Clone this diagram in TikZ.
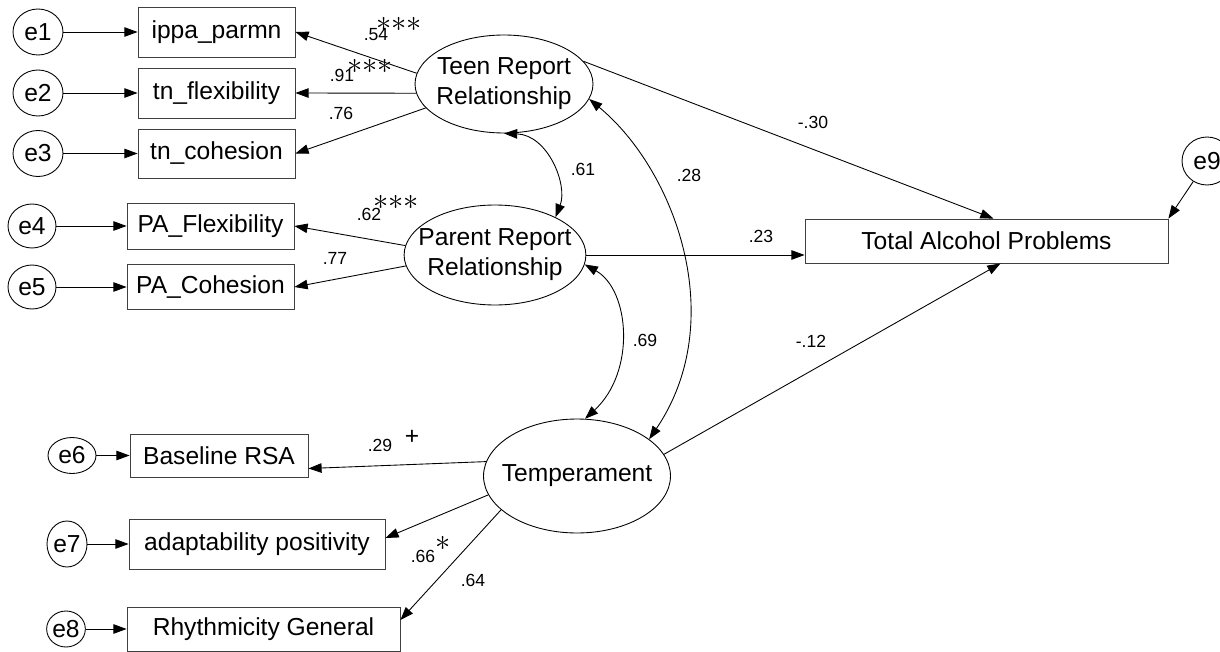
\documentclass[tikz,border=0pt]{standalone}
\usepackage{fontspec}
\setmainfont{Liberation Sans}
\usetikzlibrary{arrows.meta,shapes.geometric}

\begin{document}
\begin{tikzpicture}[x=0.02cm,y=-0.02cm,->,>={Triangle[length=7.5pt,width=5.4pt]},line width=0.5pt,
  obs/.style={draw=black!75,rectangle,inner sep=0pt,font=\fontsize{14}{17}\selectfont},
  lat/.style={draw,ellipse,inner sep=0pt,inner xsep=-7pt,align=center,font=\fontsize{14}{17}\selectfont},
  err/.style={draw,ellipse,inner sep=0pt,font=\fontsize{14}{17}\selectfont},
  coef/.style={inner sep=0pt,font=\fontsize{10}{12}\selectfont},
  sig/.style={inner sep=0pt,font=\fontsize{18}{18}\selectfont}]

  \useasboundingbox (0,0) rectangle (1220,652);

  % latent variables
  \node[lat,minimum width=3.56cm,minimum height=1.96cm] (teen) at (504,84) {Teen Report\\Relationship};
  \node[lat,minimum width=3.56cm,minimum height=2cm] (parent) at (495,255) {Parent Report\\Relationship};
  \node[lat,minimum width=3.74cm,minimum height=2.28cm] (temp) at (577,476) {Temperament};

  % indicators
  \node[obs,minimum width=3.14cm,minimum height=1cm] (ippa) at (216.5,32) {ippa\_parmn};
  \node[obs,minimum width=3.14cm,minimum height=1cm] (tnflex) at (216.5,93) {tn\_flexibility};
  \node[obs,minimum width=3.14cm,minimum height=0.98cm] (tncoh) at (216.5,153.5) {tn\_cohesion};
  \node[obs,minimum width=3.34cm,minimum height=0.92cm] (paflex) at (210.5,226) {PA\_Flexibility};
  \node[obs,minimum width=3.34cm,minimum height=0.9cm] (pacoh) at (210.5,287) {PA\_Cohesion};
  \node[obs,minimum width=3.56cm,minimum height=0.86cm] (rsa) at (219,455.5) {Baseline RSA};
  \node[obs,minimum width=5.12cm,minimum height=1cm] (adapt) at (257,544) {adaptability positivity};
  \node[obs,minimum width=5.46cm,minimum height=0.88cm] (rhythm) at (263.5,629) {Rhythmicity General};
  \node[obs,minimum width=7.26cm,minimum height=0.88cm] (tap) at (986.5,241) {Total Alcohol Problems};

  % error terms
  \node[err,minimum width=1cm,minimum height=0.92cm] (e1) at (38,32) {e1};
  \node[err,minimum width=1cm,minimum height=0.92cm] (e2) at (38,93) {e2};
  \node[err,minimum width=1cm,minimum height=0.92cm] (e3) at (38,153.5) {e3};
  \node[err,minimum width=0.96cm,minimum height=0.88cm] (e4) at (32,226) {e4};
  \node[err,minimum width=0.96cm,minimum height=0.88cm] (e5) at (32,287) {e5};
  \node[err,minimum width=0.96cm,minimum height=0.72cm] (e6) at (72,455.5) {e6};
  \node[err,minimum width=0.8cm,minimum height=0.92cm] (e7) at (67,544) {e7};
  \node[err,minimum width=0.76cm,minimum height=0.72cm] (e8) at (66,629) {e8};
  \node[err,minimum width=1cm,minimum height=0.96cm] (e9) at (1207,161) {e9};

  \path (e1) edge (ippa)
        (e2) edge (tnflex)
        (e3) edge (tncoh)
        (e4) edge (paflex)
        (e5) edge (pacoh)
        (e6) edge (rsa)
        (e7) edge (adapt)
        (e8) edge (rhythm)
        (e9) edge (tap.north east);

  \path (teen.173) edge (ippa.east)
        (teen.186) edge (tnflex.east)
        (teen.197) edge (tncoh.east)
        (parent.174) edge (paflex.east)
        (parent.187) edge (pacoh.east)
        (temp.171) edge ([yshift=-0.26cm]rsa.east)
        (temp.192) edge ([yshift=0.12cm]adapt.east)
        (temp.204) edge ([yshift=0.18cm]rhythm.east);

  \path (teen.16) edge ([xshift=0.14cm]tap.north)
        (parent.east) edge (parent.east -| tap.west)
        (temp.14) edge ([xshift=0.28cm]tap.south);

  % covariances
  \draw[<->] (teen.south) .. controls (548,135) and (568,185) .. (parent.32);
  \draw[<->] (parent.354) .. controls (630,290) and (636,372) .. (temp.82);
  \draw[<->] (teen.350) .. controls (675,170) and (730,320) .. (temp.27);

  % estimates
  \node[coef] (c54) at (376,35) {.54};
  \node[sig] (s54) at (399,24) {$\mathord{*}\mathord{*}\mathord{*}$};
  \node[coef] (c91) at (342,75) {.91};
  \node[sig] (s91) at (370,66) {$\mathord{*}\mathord{*}\mathord{*}$};
  \node[coef] (c76) at (341,113) {.76};
  \node[coef] (c62) at (369,214) {.62};
  \node[sig] (s62) at (396,202) {$\mathord{*}\mathord{*}\mathord{*}$};
  \node[coef] (c77) at (335,258) {.77};
  \node[coef] (c61) at (583,169) {.61};
  \node[coef] (c28) at (689,175) {.28};
  \node[coef] (c30) at (813,122) {-.30};
  \node[coef] (c23) at (761,236) {.23};
  \node[coef] (c69) at (645,340) {.69};
  \node[coef] (c12) at (811,341) {-.12};
  \node[coef] (c29) at (380,445) {.29};
  \node[inner sep=0pt,font=\fontsize{14}{14}\selectfont] (p29) at (412,437) {+};
  \node[coef] (c66) at (423,556) {.66};
  \node[sig] (s66) at (443,543) {$*$};
  \node[coef] (c64) at (473,580) {.64};
\end{tikzpicture}
\end{document}
